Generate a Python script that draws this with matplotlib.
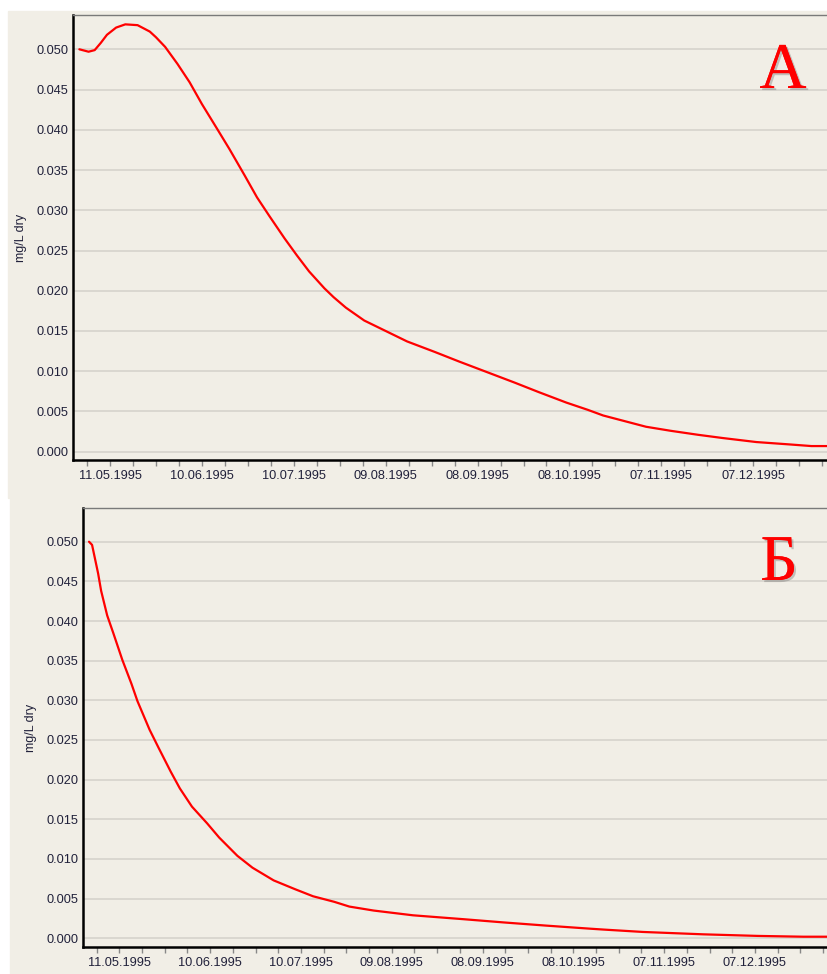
import numpy as np
import pandas as pd
import matplotlib
matplotlib.use("Agg")
import matplotlib.pyplot as plt
import matplotlib.dates as mdates
import matplotlib.patheffects as pe
from matplotlib.patches import Rectangle
from matplotlib.ticker import FixedLocator

# panel A (top)
datesA = ["1995-05-01", "1995-05-02", "1995-05-04", "1995-05-06", "1995-05-08",
          "1995-05-10", "1995-05-13", "1995-05-16", "1995-05-20", "1995-05-24",
          "1995-05-26", "1995-05-29", "1995-06-02", "1995-06-06", "1995-06-10",
          "1995-06-15", "1995-06-19", "1995-06-24", "1995-06-28", "1995-07-02",
          "1995-07-07", "1995-07-11", "1995-07-15", "1995-07-20", "1995-07-23",
          "1995-07-27", "1995-08-02", "1995-08-09", "1995-08-16", "1995-08-25",
          "1995-09-02", "1995-09-11", "1995-09-20", "1995-09-28", "1995-10-07",
          "1995-10-14", "1995-10-19", "1995-10-26", "1995-11-02", "1995-11-10",
          "1995-11-19", "1995-11-27", "1995-12-08", "1995-12-19", "1995-12-26",
          "1995-12-31"]
valsA = [0.0500, 0.0499, 0.0497, 0.0499, 0.0508, 0.0518, 0.0527, 0.0531, 0.0530,
         0.0522, 0.0515, 0.0503, 0.0482, 0.0459, 0.0432, 0.0401, 0.0376, 0.0343,
         0.0316, 0.0293, 0.0265, 0.0244, 0.0224, 0.0203, 0.0192, 0.0179, 0.0163,
         0.0150, 0.0137, 0.0124, 0.0112, 0.0099, 0.0086, 0.0074, 0.0061, 0.0052,
         0.0045, 0.0038, 0.0031, 0.0026, 0.0021, 0.0017, 0.0012, 0.0009, 0.0007,
         0.0007]

# panel B (bottom)
datesB = ["1995-05-01", "1995-05-02", "1995-05-04", "1995-05-05", "1995-05-07",
          "1995-05-09", "1995-05-12", "1995-05-15", "1995-05-17", "1995-05-21",
          "1995-05-24", "1995-05-28", "1995-05-31", "1995-06-04", "1995-06-09",
          "1995-06-13", "1995-06-19", "1995-06-24", "1995-07-01", "1995-07-08",
          "1995-07-14", "1995-07-21", "1995-07-26", "1995-08-03", "1995-08-16",
          "1995-09-02", "1995-09-15", "1995-09-29", "1995-10-14", "1995-10-18",
          "1995-10-31", "1995-11-20", "1995-12-08", "1995-12-23", "1995-12-31"]
valsB = [0.0500, 0.0496, 0.0460, 0.0438, 0.0407, 0.0385, 0.0351, 0.0321, 0.0299,
         0.0263, 0.0240, 0.0210, 0.0189, 0.0166, 0.0145, 0.0127, 0.0104, 0.0089,
         0.0073, 0.0062, 0.0053, 0.0046, 0.0040, 0.0035, 0.0029, 0.0024, 0.0020,
         0.0016, 0.0012, 0.0011, 0.0008, 0.0005, 0.0003, 0.0002, 0.0002]

tick_dates = ["1995-05-11", "1995-06-10", "1995-07-10", "1995-08-09",
              "1995-09-08", "1995-10-08", "1995-11-07", "1995-12-07"]
yticks = [0.000, 0.005, 0.010, 0.015, 0.020, 0.025, 0.030, 0.035, 0.040, 0.045, 0.050]

W, H = 827, 974
BG = "#F1EEE6"
GRID = "#D8D5CE"
TXT = "#20203a"

plt.rcParams['font.family'] = ['Liberation Sans', 'DejaVu Sans']

fig = plt.figure(figsize=(W / 100, H / 100), dpi=100, facecolor="white")

# panel backgrounds (screenshot frames)
fig.patches.append(Rectangle((8 / W, 1 - 498 / H), (W - 8) / W, (498 - 11) / H,
                             transform=fig.transFigure, color=BG, zorder=-10))
fig.patches.append(Rectangle((10 / W, 0), (W - 10) / W, 1 - 499 / H,
                             transform=fig.transFigure, color=BG, zorder=-10))

ref = mdates.datestr2num("1995-05-11")
majors = mdates.datestr2num(tick_dates)
minors = [ref + 7.5 * k for k in range(-2, 33) if k % 4 != 0]


def panel(rect, dates, vals, ylim, xlim, letter, letter_xy):
    ax = fig.add_axes(rect)
    ax.set_facecolor(BG)
    x = mdates.datestr2num(dates)
    ax.plot(x, vals, color="#FF0000", lw=1.6, zorder=3,
            solid_joinstyle="round", solid_capstyle="round")
    ax.set_xlim(*xlim)
    ax.set_ylim(*ylim)
    ax.set_yticks(yticks)
    ax.set_yticklabels([f"{v:.3f}" for v in yticks])
    ax.xaxis.set_major_locator(FixedLocator(majors))
    ax.xaxis.set_minor_locator(FixedLocator(minors))
    ax.xaxis.set_major_formatter(mdates.DateFormatter("%d.%m.%Y"))
    ax.grid(axis="y", color=GRID, lw=1.3, zorder=0)
    ax.tick_params(axis="y", length=0, pad=3, labelsize=9.2, labelcolor=TXT)
    ax.tick_params(axis="x", which="major", length=4, width=1, color="#888888",
                   pad=3.5, labelsize=9.2, labelcolor=TXT)
    ax.tick_params(axis="x", which="minor", length=4, width=1, color="#888888")
    for s in ("left", "bottom"):
        ax.spines[s].set_color("black")
        ax.spines[s].set_linewidth(1.8)
    ax.spines["top"].set_color("#7a7a7a")
    ax.spines["top"].set_linewidth(1.0)
    ax.spines["right"].set_visible(False)
    ax.set_ylabel("mg/L dry", fontsize=9, color=TXT, labelpad=7)
    ax.text(letter_xy[0], letter_xy[1], letter, transform=fig.transFigure,
            family="Liberation Serif", fontsize=47, color="#FF0000",
            ha="center", va="baseline", zorder=5,
            path_effects=[pe.withSimplePatchShadow(offset=(1.5, -1.5),
                                                   shadow_rgbFace="#555555", alpha=0.3),
                          pe.Normal()])
    return ax


# top: spine x 73, top y 15, bottom y 460; 0 at y 451.7, 0.05 at y 49.3
pxA = 0.05 / 402.4
axA = panel([73 / W, 1 - 460 / H, (W - 73 + 5) / W, 445 / H],
            datesA, valsA,
            (-8.3 * pxA, 0.05 + 34.3 * pxA),
            (ref + (73 - 110) / 3.063, ref + (W + 5 - 110) / 3.063),
            "А", (783 / W, 1 - 88 / H))

# bottom: spine x 83, top y 508, bottom y 947; 0 at y 938.3, 0.05 at y 541.7
pxB = 0.05 / 396.6
axB = panel([83 / W, 1 - 947 / H, (W - 83 + 5) / W, 439 / H],
            datesB, valsB,
            (-8.7 * pxB, 0.05 + 33.7 * pxB),
            (ref + (83 - 119.3) / 3.027, ref + (W + 5 - 119.3) / 3.027),
            "Б", (779 / W, 1 - 580 / H))

fig.savefig("out.png", dpi=100, facecolor="white")
